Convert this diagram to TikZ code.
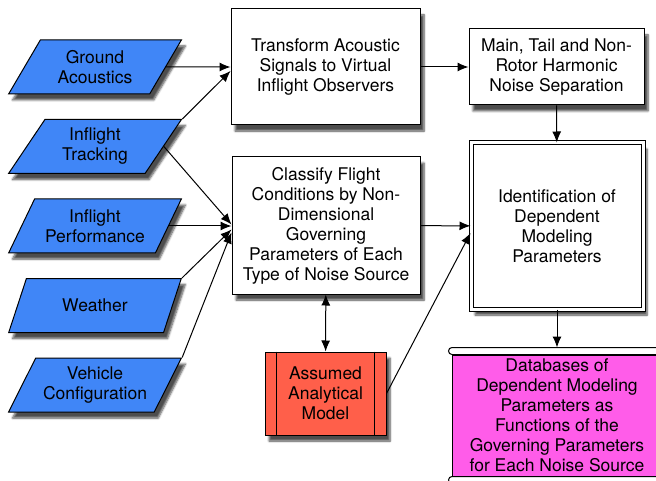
\documentclass[tikz,border=0pt]{standalone}
\usepackage{fontspec}
\setmainfont{TeX Gyre Heros}
\usetikzlibrary{shapes.geometric,arrows.meta,shadows.blur,positioning}

\definecolor{srcblue}{RGB}{64,134,247}
\definecolor{modelred}{RGB}{255,95,74}
\definecolor{dbpink}{RGB}{255,92,233}

\tikzset{
  boxshadow/.style={blur shadow={shadow xshift=4pt, shadow yshift=-6pt, shadow blur steps=6, shadow opacity=70}},
  source/.style={trapezium, trapezium left angle=57, trapezium right angle=123, trapezium stretches=true,
    draw, fill=srcblue, minimum width=173pt, minimum height=54pt, inner sep=0pt, align=center, boxshadow},
  procbox/.style={draw, fill=white, align=center, inner sep=2pt, boxshadow},
}

\begin{document}
\begin{tikzpicture}[x=1pt, y=-1pt, >={Latex[length=11pt,width=9pt]}, node distance=79.5pt,
  line width=1pt, font=\fontsize{17.5}{20}\selectfont]
\useasboundingbox (0,0) rectangle (656,481);

% input data
\node[source] (ground) at (95,67) {Ground\\Acoustics};
\node[source, below of=ground] (tracking) {Inflight\\Tracking};
\node[source, below of=tracking] (perf) {Inflight\\Performance};
\node[source, below of=perf] (weather) {Weather};
\node[source, below of=weather] (vehicle) {Vehicle\\Configuration};

% processing steps
\node[procbox, minimum width=189pt, minimum height=116pt] (transform) at (325.5,67) {Transform Acoustic\\Signals to Virtual\\Inflight Observers};
\node[procbox, minimum width=175pt, minimum height=76pt] (separation) at (556.5,67) {Main, Tail and Non-\\Rotor Harmonic\\Noise Separation};
\node[procbox, minimum width=188pt, minimum height=137pt] (classify) at (326,225.5) {Classify Flight\\Conditions by Non-\\Dimensional\\Governing\\Parameters of Each\\Type of Noise Source};
\node[procbox, double, double distance=3pt, minimum width=172pt, minimum height=166pt] (ident) at (557,226) {Identification of\\Dependent\\Modeling\\Parameters};
\node[procbox, fill=modelred, minimum width=121pt, minimum height=83pt] (model) at (325.5,393.5) {Assumed\\Analytical\\Model};
\node[procbox, fill=dbpink, minimum width=210pt, minimum height=121pt] (db) at (557,415.5) {Databases of\\Dependent Modeling\\Parameters as\\Functions of the\\Governing Parameters\\for Each Noise Source};

% side bars
\draw ([xshift=12pt]model.north west) -- ([xshift=12pt]model.south west);
\draw ([xshift=-12pt]model.north east) -- ([xshift=-12pt]model.south east);
\draw[fill=white, rounded corners=3.5pt] ([xshift=-3pt]db.north west) rectangle ([xshift=3pt,yshift=7pt]db.north east);
\draw[fill=white, rounded corners=3.5pt] ([xshift=-3pt]db.south west) rectangle ([xshift=3pt,yshift=-7pt]db.south east);

% connectors
\draw[->] (ground) -- (transform);
\draw[->] (tracking.top right corner) -- ([yshift=-4pt]transform.west);
\draw[->] (tracking.east) -- ([yshift=1pt]classify.west);
\draw[->] (perf.east) -- (perf.east -| classify.west);
\draw[->] (weather.top right corner) -- ([yshift=-4pt]classify.west);
\draw[->] (vehicle.top right corner) -- ([yshift=-7pt]classify.west);
\draw[->] (transform) -- (separation);
\draw[->] (separation) -- (ident);
\draw[->] (classify) -- (ident);
\draw[->] (model.east) -- ([yshift=-7pt]ident.west);
\draw[<->] (classify) -- (model);
\draw[->] (ident) -- ([yshift=7pt]db.north);
\end{tikzpicture}
\end{document}
